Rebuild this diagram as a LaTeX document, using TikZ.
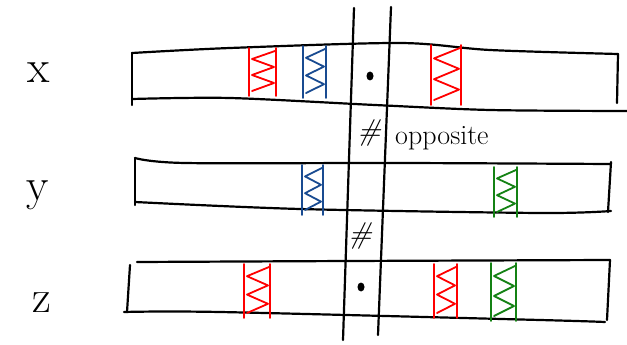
\documentclass[tikz,border=0pt]{standalone}
\usetikzlibrary{shapes.geometric}
\begin{document}
\begin{tikzpicture}[x=1pt,y=-1pt,
  ink/.style={line width=2.2pt, line cap=round, line join=round},
  hatchline/.style={line width=1.8pt, line cap=round, line join=round},
  barline/.style={ink, black},
  lbl/.style={inner sep=0pt, anchor=base, font=\fontsize{46}{52}\selectfont},
  note/.style={inner sep=0pt, anchor=base west, font=\fontsize{28}{32}\selectfont},
  hashmark/.style={inner sep=0pt, font=\fontsize{30}{34}\selectfont\itshape},
  dotmark/.style={ellipse, fill=black, inner sep=0pt, minimum width=7pt, minimum height=9pt}]
\definecolor{mred}{RGB}{255,0,0}
\definecolor{mblue}{RGB}{25,75,145}
\definecolor{mgreen}{RGB}{20,130,20}
\newcommand\hatchblock[5]{%
  \draw[hatchline,draw=#1] (#2,#4) -- (#2,#5) (#3,#4) -- (#3,#5);
  \draw[hatchline,draw=#1] ({#3-1},{#4+3})
    \foreach \k in {1,...,5}{ -- ({ifthenelse(isodd(\k),#2+3,#3-2)},{#4+3+\k*(#5-#4-8)/5}) };
}
\fill[white] (0,0) rectangle (627,345);
\useasboundingbox (0,0) rectangle (627,345);

% vertical lines
\coordinate (vlt) at (354,8);
\coordinate (vlb) at (343,340);
\coordinate (vrt) at (391,7);
\coordinate (vrb) at (378,335);
\draw[ink] (vlt) -- (vlb);
\draw[ink] (vrt) -- (vrb);

% bar x
\draw[barline] (132,53) -- (132,105);
\draw[barline] plot[smooth] coordinates {(132,53) (230,48) (400,43) (490,50) (618,54)};
\draw[barline] (618,54) -- (617,103);
\draw[barline] plot[smooth] coordinates {(132,99) (230,98) (375,105) (490,110) (627,111)};

% bar y
\draw[barline] (135,158) -- (135,205);
\draw[barline] plot[smooth] coordinates {(135,158) (185,163) (400,163) (611,164)};
\draw[barline] (611,162) -- (608,212);
\draw[barline] plot[smooth] coordinates {(135,202) (300,209) (540,213) (611,211)};

% bar z
\draw[barline] (130,265) -- (127,312);
\draw[barline] plot[smooth] coordinates {(137,262) (350,261) (610,260)};
\draw[barline] (610,260) -- (607,320);
\draw[barline] plot[smooth] coordinates {(124,312) (220,312) (540,320) (605,322)};

% markers bar x
\hatchblock{mred}{249}{276}{48}{96}
\hatchblock{mblue}{303}{326}{46}{98}
\hatchblock{mred}{431}{461}{45}{105}
% markers bar y
\hatchblock{mblue}{302}{323}{165}{215}
\hatchblock{mgreen}{494}{517}{167}{217}
% markers bar z
\hatchblock{mred}{244}{270}{264}{318}
\hatchblock{mred}{434}{457}{264}{318}
\hatchblock{mgreen}{491}{516}{263}{321}

% dots
\node[dotmark] (d1) at (370,76) {};
\node[dotmark] (d2) at (361,287) {};

% labels
\node[lbl] (lx) at (39,82) {x};
\node[lbl] (ly) at (38,200) {y};
\node[lbl] (lz) at (42,312) {z};
\node[hashmark] (h1) at (369,133) {\#};
\node[hashmark] (h2) at (360,236) {\#};
\node[note] (opp) at (395,144) {opposite};
\end{tikzpicture}
\end{document}
